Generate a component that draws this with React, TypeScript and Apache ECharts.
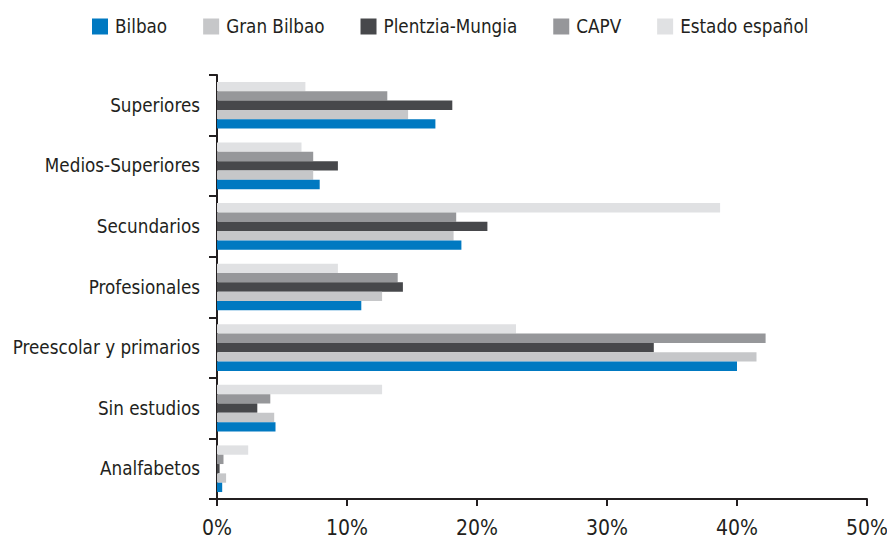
import React, { useEffect, useRef } from "react";
import * as echarts from "echarts";

const categories = [
  "Analfabetos",
  "Sin estudios",
  "Preescolar y primarios",
  "Profesionales",
  "Secundarios",
  "Medios-Superiores",
  "Superiores",
];

const seriesNames = ["Bilbao", "Gran Bilbao", "Plentzia-Mungia", "CAPV", "Estado español"];

const bilbao = [0.4, 4.5, 40.0, 11.1, 18.8, 7.9, 16.8];
const granBilbao = [0.7, 4.4, 41.5, 12.7, 18.2, 7.4, 14.7];
const plentziaMungia = [0.2, 3.1, 33.6, 14.3, 20.8, 9.3, 18.1];
const capv = [0.5, 4.1, 42.2, 13.9, 18.4, 7.4, 13.1];
const estadoEspanol = [2.4, 12.7, 23.0, 9.3, 38.7, 6.5, 6.8];

const xTicks = { min: 0, max: 50, interval: 10 };

const colors = ["#0079C1", "#C6C7C9", "#47484B", "#96979A", "#E0E1E3"];

const FONT = "'Liberation Sans Narrow', 'DejaVu Sans Condensed', 'Liberation Sans', sans-serif";
const TEXT = "#231F20";

export default function App() {
  const ref = useRef<HTMLDivElement>(null);
  useEffect(() => {
    if (!ref.current) return;
    const chart = echarts.init(ref.current, undefined, { renderer: "svg" });
    const data = [bilbao, granBilbao, plentziaMungia, capv, estadoEspanol];
    const order = [4, 3, 2, 1, 0];
    chart.setOption({
      animation: false,
      backgroundColor: "#ffffff",
      textStyle: { fontFamily: FONT, color: TEXT },
      legend: {
        data: seriesNames,
        top: 12,
        left: 87,
        itemWidth: 16,
        itemHeight: 16,
        itemGap: 36,
        icon: "rect",
        textStyle: { fontFamily: FONT, fontSize: 18.7, color: TEXT, padding: [0, 0, 0, 2] },
      },
      grid: { left: 217, right: 20, top: 75, bottom: 44, outerBoundsMode: "none", containLabel: false },
      xAxis: {
        type: "value",
        min: xTicks.min,
        max: xTicks.max,
        interval: xTicks.interval,
        splitLine: { show: false },
        axisLine: { show: true, lineStyle: { color: TEXT, width: 2 } },
        axisTick: { show: true, length: 7, lineStyle: { color: TEXT, width: 2 } },
        axisLabel: {
          formatter: "{value}%",
          fontFamily: FONT,
          fontSize: 21,
          color: TEXT,
          margin: 18,
        },
      },
      yAxis: {
        type: "category",
        data: categories,
        axisLine: { show: true, lineStyle: { color: TEXT, width: 2 } },
        axisTick: { show: true, length: 8, lineStyle: { color: TEXT, width: 2 } },
        axisLabel: { fontFamily: FONT, fontSize: 18.7, color: TEXT, margin: 17 },
      },
      series: order.map((i) => ({
        name: seriesNames[i],
        type: "bar",
        data: data[i],
        itemStyle: { color: colors[i] },
        barGap: "0%",
        barCategoryGap: "23%",
      })),
    });
    return () => chart.dispose();
  }, []);
  return <div ref={ref} style={{ width: 887, height: 543, position: "absolute", left: 0, top: 0 }} />;
}
